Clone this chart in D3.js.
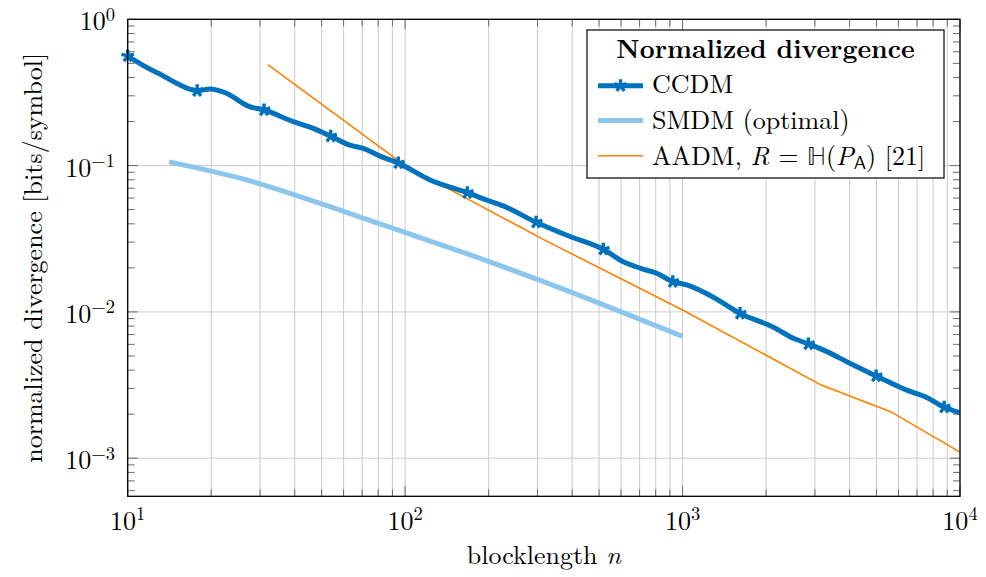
<!DOCTYPE html>
<html>
<head>
<meta charset="utf-8">
<script src="https://cdn.jsdelivr.net/npm/d3@7"></script>
<style>
  html, body { margin: 0; padding: 0; background: #fff; }
  svg { display: block; }
</style>
</head>
<body>
<svg id="chart" width="986" height="577"></svg>
<script>
// ---- data ----
const ccdmN = [10, 12.2, 12.9, 15.0, 17.8, 19.8, 22.7, 27.2, 31.0, 39.5, 45.4, 53.9, 63.2, 70.6, 81.2, 94.5,
  123, 167.5, 196.7, 225.9, 296.6, 389, 518, 612, 703, 807, 922, 1035, 1291, 1611, 2126, 2509, 2841,
  3311, 3908, 4985, 6427, 7587, 8770, 10000];
const ccdmV = [0.561, 0.45, 0.428, 0.365, 0.325, 0.334, 0.312, 0.255, 0.240, 0.200, 0.183, 0.159, 0.138, 0.131, 0.116, 0.104,
  0.0798, 0.0653, 0.0582, 0.053, 0.041, 0.033, 0.0268, 0.022, 0.0199, 0.01836, 0.0161, 0.01528, 0.0126, 0.00977, 0.00785, 0.0066, 0.00604,
  0.00535, 0.00457, 0.00365, 0.00292, 0.0026, 0.00223, 0.00205];
const ccdmMarkerN = [10, 17.8, 31.0, 53.9, 94.5, 167.5, 296.6, 518, 922, 1611, 2841, 4985, 8770];

const smdmN = [14.1, 26.9, 53.6, 81.2, 194, 305, 1000];
const smdmV = [0.106, 0.0797, 0.0524, 0.0399, 0.0226, 0.0165, 0.0068];

const aadmN = [32, 100, 316, 1000, 3162, 5623, 10000];
const aadmV = [0.49, 0.1, 0.0312, 0.0103, 0.00316, 0.00208, 0.0011];

const xTickExp = [1, 2, 3, 4];
const yTickExp = [0, -1, -2, -3];

const legendTitle = "Normalized divergence";
const seriesNames = ["CCDM", "SMDM (optimal)", "AADM"];
const xLabel = "blocklength";
const yLabel = "normalized divergence [bits/symbol]";

// ---- layout ----
const FONT = '"Latin Modern Roman", "Liberation Serif", serif';
const L = 127.7, R = 960, T = 19.3, B = 496.3;
const svg = d3.select("#chart").attr("font-family", FONT);
const x = d3.scaleLog().domain([10, 10000]).range([L, R]);
const y = d3.scaleLog().domain([5.49e-4, 1]).range([B, T]);

const colCCDM = "#0072bd", colSMDM = "#8dc6ec", colAADM = "#ff7f00";
const gridCol = "#cbcbcb", tickCol = "#6a6a6a";

// grid: vertical major+minor, horizontal major only
const xMinor = [];
for (let e = 1; e < 4; e++) for (let k = 1; k < 10; k++) xMinor.push(k * Math.pow(10, e));
xMinor.push(10000);
const g = svg.append("g");
g.selectAll("line.vg").data(xMinor).join("line")
  .attr("x1", d => x(d)).attr("x2", d => x(d)).attr("y1", T).attr("y2", B)
  .attr("stroke", gridCol).attr("stroke-width", 1);
g.selectAll("line.hg").data(yTickExp.map(e => Math.pow(10, e))).join("line")
  .attr("x1", L).attr("x2", R).attr("y1", d => y(d)).attr("y2", d => y(d))
  .attr("stroke", gridCol).attr("stroke-width", 1);

// ticks (inside, all four sides)
const yMinor = [];
for (let e = -4; e < 0; e++) for (let k = 2; k < 10; k++) { const v = k * Math.pow(10, e); if (v >= 5.49e-4 && v <= 1) yMinor.push(v); }
const xMajor = xTickExp.map(e => Math.pow(10, e));
const xMin2 = xMinor.filter(v => !xMajor.includes(v));
const yMajor = yTickExp.map(e => Math.pow(10, e));
function ticksX(vals, len) {
  g.selectAll(null).data(vals).join("line")
    .attr("x1", d => x(d)).attr("x2", d => x(d)).attr("y1", B).attr("y2", B - len)
    .attr("stroke", tickCol).attr("stroke-width", 1);
  g.selectAll(null).data(vals).join("line")
    .attr("x1", d => x(d)).attr("x2", d => x(d)).attr("y1", T).attr("y2", T + len)
    .attr("stroke", tickCol).attr("stroke-width", 1);
}
function ticksY(vals, len) {
  g.selectAll(null).data(vals).join("line")
    .attr("x1", L).attr("x2", L + len).attr("y1", d => y(d)).attr("y2", d => y(d))
    .attr("stroke", tickCol).attr("stroke-width", 1);
  g.selectAll(null).data(vals).join("line")
    .attr("x1", R).attr("x2", R - len).attr("y1", d => y(d)).attr("y2", d => y(d))
    .attr("stroke", tickCol).attr("stroke-width", 1);
}
ticksX(xMin2, 7); ticksX(xMajor, 10);
ticksY(yMinor, 7); ticksY(yMajor, 10);

// series
const line = d3.line().x(d => x(d[0])).y(d => y(d[1])).curve(d3.curveMonotoneX);
svg.append("clipPath").attr("id", "clp").append("rect")
  .attr("x", L).attr("y", T).attr("width", R - L).attr("height", B - T);
const plot = svg.append("g").attr("clip-path", "url(#clp)");

plot.append("path").datum(aadmN.map((n, i) => [n, aadmV[i]]))
  .attr("d", d3.line().x(d => x(d[0])).y(d => y(d[1])))
  .attr("fill", "none").attr("stroke", colAADM).attr("stroke-width", 1.6);
plot.append("path").datum(smdmN.map((n, i) => [n, smdmV[i]]))
  .attr("d", line).attr("fill", "none").attr("stroke", colSMDM).attr("stroke-width", 5);
const ccdmData = ccdmN.map((n, i) => [n, ccdmV[i]]);
plot.append("path").datum(ccdmData)
  .attr("d", line).attr("fill", "none").attr("stroke", colCCDM).attr("stroke-width", 5)
  .attr("stroke-linejoin", "round");

function star(r) {
  let p = "";
  for (let k = 0; k < 5; k++) {
    const a = -Math.PI / 2 + k * 2 * Math.PI / 5;
    p += `M0,0L${(r * Math.cos(a)).toFixed(2)},${(r * Math.sin(a)).toFixed(2)}`;
  }
  return p;
}
const marks = ccdmData.filter(d => ccdmMarkerN.includes(d[0]));
svg.append("g").selectAll("path").data(marks).join("path")
  .attr("transform", d => `translate(${x(d[0])},${y(d[1])})`)
  .attr("d", star(6.5)).attr("fill", "none").attr("stroke", colCCDM).attr("stroke-width", 3.4);

// frame
svg.append("rect").attr("x", L).attr("y", T).attr("width", R - L).attr("height", B - T)
  .attr("fill", "none").attr("stroke", "#000").attr("stroke-width", 1.3);

// tick labels
function expLabel(sel, e) {
  sel.append("tspan").text("10");
  sel.append("tspan").attr("dy", -9.5).attr("font-size", 18.5).text(e < 0 ? "\u2212" + (-e) : String(e));
}
xTickExp.forEach(e => {
  const t = svg.append("text").attr("x", x(Math.pow(10, e))).attr("y", 529.5)
    .attr("text-anchor", "middle").attr("font-size", 26);
  expLabel(t, e);
});
yTickExp.forEach(e => {
  const t = svg.append("text").attr("x", 115).attr("y", y(Math.pow(10, e)) + 11)
    .attr("text-anchor", "end").attr("font-size", 26);
  expLabel(t, e);
});

// axis labels
const xl = svg.append("text").attr("x", (L + R) / 2).attr("y", 564).attr("text-anchor", "middle").attr("font-size", 26);
xl.append("tspan").text(xLabel + " ");
xl.append("tspan").attr("font-style", "italic").text("n");
svg.append("text").attr("transform", `translate(42,${(T + B) / 2}) rotate(-90)`)
  .attr("text-anchor", "middle").attr("font-size", 26)
  .text(yLabel);

// legend
const lg = svg.append("g");
lg.append("rect").attr("x", 587).attr("y", 30).attr("width", 357).attr("height", 148)
  .attr("fill", "#fff").attr("stroke", "#000").attr("stroke-width", 1.2);
lg.append("text").attr("x", 765.5).attr("y", 58.3).attr("text-anchor", "middle")
  .attr("font-size", 26).attr("font-weight", "bold").text(legendTitle);
const rows = [
  { c: colCCDM, w: 5, y: 85.7, mark: true },
  { c: colSMDM, w: 5, y: 120.5, mark: false },
  { c: colAADM, w: 1.6, y: 155.7, mark: false }
];
rows.forEach(r => {
  lg.append("line").attr("x1", 598).attr("x2", 643).attr("y1", r.y).attr("y2", r.y)
    .attr("stroke", r.c).attr("stroke-width", r.w);
  if (r.mark) lg.append("path").attr("transform", `translate(620.5,${r.y})`)
    .attr("d", star(6.5)).attr("fill", "none").attr("stroke", r.c).attr("stroke-width", 3.4);
});
lg.append("text").attr("x", 652).attr("y", 93.3).attr("font-size", 26).text(seriesNames[0]);
lg.append("text").attr("x", 652).attr("y", 128.5).attr("font-size", 26).text(seriesNames[1]);
const at = lg.append("text").attr("x", 652).attr("y", 164.5).attr("font-size", 26).attr("xml:space", "preserve");
at.append("tspan").text(seriesNames[2] + ", ");
at.append("tspan").attr("font-style", "italic").text("R");
at.append("tspan").text(" = ");
at.append("tspan").attr("font-family", '"Latin Modern Math", "DejaVu Serif", "DejaVu Sans"').text("\u210D");
at.append("tspan").text("(");
at.append("tspan").attr("font-style", "italic").text("P");
at.append("tspan").attr("font-family", '"Latin Modern Sans", "DejaVu Sans"').attr("font-size", 18.5).attr("dy", 4).text("A");
at.append("tspan").attr("dy", -4).text(") [21]");
</script>
</body>
</html>
